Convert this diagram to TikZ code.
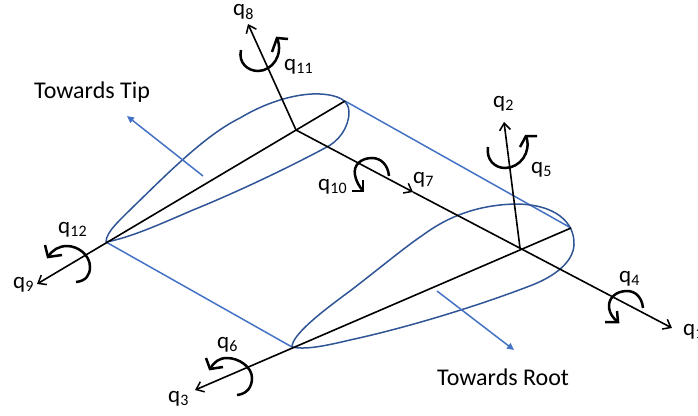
\documentclass[tikz,border=0pt]{standalone}
\usepackage{fontspec}
\setmainfont{Carlito}
\usetikzlibrary{arrows.meta}
\definecolor{wing}{HTML}{2F5597}
\definecolor{link}{HTML}{4472C4}
\newcommand{\qlab}[1]{q\kern0.2pt\raisebox{-3.6pt}{\fontsize{16}{17}\selectfont #1}}
\tikzset{
  axis/.style={black,line width=1.6pt},
  axisarrow/.style={axis,-{Straight Barb[length=7pt,width=11pt,line width=1.5pt]}},
  curl/.style={black,line width=2.5pt,line join=miter},
  outline/.style={wing,line width=1.5pt},
  linkline/.style={link,line width=1.5pt},
  dirarrow/.style={linkline,-{Triangle[length=7pt,width=6.5pt]}},
  qtext/.style={anchor=base west,inner sep=0pt,font=\fontsize{23}{24}\selectfont},
  title/.style={anchor=base west,inner sep=0pt,font=\fontsize{24}{26}\selectfont},
}
\begin{document}
\begin{tikzpicture}[x=1pt,y=-1pt]
\useasboundingbox (0,0) rectangle (698,415);
\clip (0,0) rectangle (698,415);
% key points
\coordinate (tipLE) at (106,242);
\coordinate (tipTE) at (345,101);
\coordinate (tipC) at (296,130);
\coordinate (rootLE) at (292,347);
\coordinate (rootTE) at (571,228);
\coordinate (rootC) at (520,248);
\coordinate (e8) at (248,24);
\coordinate (e9) at (37,284);
\coordinate (e7) at (413,192);
\coordinate (e1) at (672,328);
\coordinate (e2) at (504,122);
\coordinate (e3) at (195,390);
\coordinate (tipFrom) at (203,176);
\coordinate (tipTo) at (127,116);
\coordinate (rootFrom) at (437,291);
\coordinate (rootTo) at (514,350);
% links between sections
\draw[linkline] (tipLE) -- (rootLE);
\draw[linkline] (tipTE) -- (rootTE);
% airfoils
\draw[outline] (tipLE) .. controls (106,232) and (120,220) .. (133,207)
  .. controls (165,176) and (205,135) .. (240,118)
  .. controls (270,100) and (300,93) .. (320,94)
  .. controls (338,95) and (349,100) .. (349,112)
  .. controls (349,128) and (338,142) .. (325,148)
  .. controls (280,172) and (230,195) .. (193,210)
  .. controls (165,222) and (130,238) .. (tipLE);
\draw[outline] (rootLE) .. controls (292,335) and (320,313) .. (350,291)
  .. controls (380,268) and (405,247) .. (423,235)
  .. controls (450,215) and (480,205) .. (515,204)
  .. controls (555,204) and (575,222) .. (574,245)
  .. controls (573,262) and (555,277) .. (527,287)
  .. controls (480,305) and (410,327) .. (350,340)
  .. controls (325,346) and (305,350) .. (rootLE);
% axes
\draw[axisarrow] (tipC) -- (e8);
\draw[axisarrow] (tipTE) -- (e9);
\draw[axisarrow] (tipC) -- (e7);
\draw[axisarrow] (e7) -- (e1);
\draw[axisarrow] (rootC) -- (e2);
\draw[axisarrow] (rootTE) -- (e3);
% direction arrows
\draw[dirarrow] (tipFrom) -- (tipTo);
\draw[dirarrow] (rootFrom) -- (rootTo);
% rotation curls
\draw[curl] (241,50) .. controls (238,63) and (248,71) .. (258,71) .. controls (272,71) and (284,55) .. (277,38);
\draw[curl] (288,39) -- (277,38) -- (272,52);
\draw[curl] (488,147) .. controls (486,160) and (495,168) .. (505,168) .. controls (520,168) and (532,152) .. (526,136);
\draw[curl] (537,136) -- (526,136) -- (520,147);
\draw[curl] (389,176) .. controls (388,165) and (381,158) .. (372,158) .. controls (361,158) and (353,165) .. (355,175) .. controls (356,181) and (359,186) .. (363,191);
\draw[curl] (352,191) -- (363,191) -- (363,180);
\draw[curl] (643,308) .. controls (642,298) and (636,291) .. (627,291) .. controls (616,291) and (608,298) .. (609,308) .. controls (610,314) and (613,318) .. (618,322);
\draw[curl] (605,322) -- (618,322) -- (617,311);
\draw[curl] (76,282) .. controls (86,281) and (90,275) .. (90,267) .. controls (90,255) and (78,246) .. (67,246) .. controls (59,246) and (52,250) .. (48,257);
\draw[curl] (45,245) -- (48,257) -- (62,255);
\draw[curl] (237,395) .. controls (247,394) and (252,387) .. (252,378) .. controls (252,367) and (239,358) .. (227,358) .. controls (219,358) and (214,362) .. (210,369);
\draw[curl] (206,358) -- (210,369) -- (223,367);
% labels
\node[qtext] (q1) at (683,335) {\qlab{1}};
\node[qtext] (q2) at (493,107) {\qlab{2}};
\node[qtext] (q3) at (168,402) {\qlab{3}};
\node[qtext] (q4) at (619,282) {\qlab{4}};
\node[qtext] (q5) at (531,173) {\qlab{5}};
\node[qtext] (q6) at (217,348) {\qlab{6}};
\node[qtext] (q7) at (413,183) {\qlab{7}};
\node[qtext] (q8) at (233,15.5) {\qlab{8}};
\node[qtext] (q9) at (13,288) {\qlab{9}};
\node[qtext] (q10) at (318,190) {\qlab{10}};
\node[qtext] (q11) at (284,70) {\qlab{11}};
\node[qtext] (q12) at (58,233) {\qlab{12}};
\node[title] (tt) at (34,98) {Towards Tip};
\node[title] (tr) at (437,385) {Towards Root};
\end{tikzpicture}
\end{document}
